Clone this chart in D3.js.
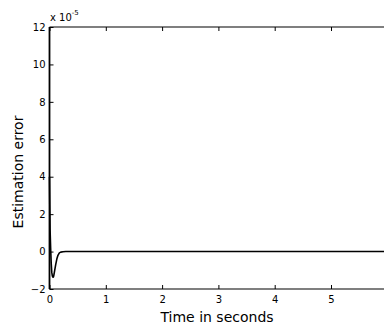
<!DOCTYPE html>
<html>
<head>
<meta charset="utf-8">
<script src="https://cdn.jsdelivr.net/npm/d3@7"></script>
<style>
  body { margin: 0; background: #fff; overflow: hidden; }
  text { font-family: "DejaVu Sans", Verdana, sans-serif; fill: #000; }
</style>
</head>
<body>
<svg id="chart" width="384" height="327"></svg>
<script>
// time (s) and estimation error (x 1e-5)
var times  = [0, 0.005, 0.01, 0.02, 0.03, 0.04, 0.05, 0.06, 0.067, 0.075, 0.09, 0.11, 0.13, 0.15, 0.175, 0.2, 0.24, 0.29, 0.4, 1, 2, 3, 4, 5, 6];
var errors = [4, 2.5, 1.2, 0.2, -0.6, -1.1, -1.3, -1.36, -1.37, -1.3, -1.05, -0.7, -0.4, -0.2, -0.07, -0.03, -0.01, 0, 0, 0, 0, 0, 0, 0, 0];
var xTicks = [0, 1, 2, 3, 4, 5];
var yTicks = [-2, 0, 2, 4, 6, 8, 10, 12];

var svg = d3.select("#chart");
var x = d3.scaleLinear().domain([0, 6]).range([49.5, 387.3]);
var y = d3.scaleLinear().domain([-2, 12]).range([289, 27]);

// curve
var line = d3.line().x(function (d, i) { return x(times[i]); }).y(function (d) { return y(d); });
svg.append("path").datum(errors)
  .attr("d", line)
  .attr("fill", "none")
  .attr("stroke", "#000")
  .attr("stroke-width", 1.6)
  .attr("stroke-linejoin", "round");

// bottom axis
var xAxis = svg.append("g").attr("transform", "translate(0," + y(-2) + ")")
  .call(d3.axisBottom(x).tickValues(xTicks).tickSize(-4).tickPadding(7).tickFormat(d3.format("d")));
xAxis.select(".domain").attr("d", "M" + x(0) + ",0H" + x(6)).attr("stroke-width", 1.2);
xAxis.selectAll("text").attr("font-size", 10);

// top axis
var xTop = svg.append("g").attr("transform", "translate(0," + y(12) + ")")
  .call(d3.axisTop(x).tickValues(xTicks).tickSize(-4).tickFormat(""));
xTop.select(".domain").attr("d", "M" + x(0) + ",0H" + x(6)).attr("stroke-width", 1.2);

// left axis
var yAxis = svg.append("g").attr("transform", "translate(" + x(0) + ",0)")
  .call(d3.axisLeft(y).tickValues(yTicks).tickSize(-4).tickPadding(4).tickFormat(d3.format("d")));
yAxis.select(".domain").attr("d", "M0," + y(-2) + "V" + y(12)).attr("stroke-width", 1.8);
yAxis.selectAll("text").attr("font-size", 10);

svg.selectAll(".tick line").attr("stroke", "#000");
svg.selectAll(".domain").attr("stroke", "#000");

// exponent
var ex = svg.append("text").attr("x", 50).attr("y", 21).attr("font-size", 10);
ex.append("tspan").text("x 10");
ex.append("tspan").attr("dy", -6).attr("font-size", 7).text("-5");

// labels
svg.append("text").attr("x", 217).attr("y", 322).attr("text-anchor", "middle")
  .attr("font-size", 14).text("Time in seconds");
svg.append("text").attr("transform", "translate(23,172) rotate(-90)").attr("text-anchor", "middle")
  .attr("font-size", 14).text("Estimation error");
</script>
</body>
</html>
